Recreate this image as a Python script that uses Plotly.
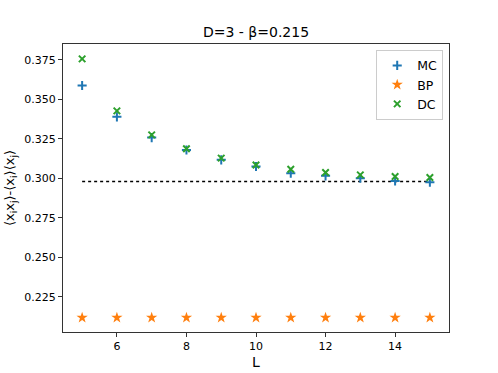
import plotly.graph_objects as go

L = [5, 6, 7, 8, 9, 10, 11, 12, 13, 14, 15]
mc = [0.3587, 0.3389, 0.3258, 0.3179, 0.3117, 0.3075, 0.3033, 0.3016, 0.3001, 0.2984, 0.2976]
bp = [0.2119] * 11
dc = [0.3756, 0.3427, 0.3275, 0.3187, 0.3128, 0.3085, 0.3058, 0.3037, 0.3022, 0.3012, 0.3005]
ref_value = 0.2980

FONT = "DejaVu Sans, Arial, sans-serif"

fig = go.Figure()
fig.add_trace(go.Scatter(x=[L[0], L[-1]], y=[ref_value, ref_value], mode="lines",
                         line=dict(color="black", width=1.5, dash="dot"), showlegend=False,
                         hoverinfo="skip"))
fig.add_trace(go.Scatter(x=L, y=mc, mode="markers", name="MC",
                         marker=dict(symbol="cross-thin-open", size=6.5, color="#1f77b4",
                                     line=dict(width=2, color="#1f77b4"))))
fig.add_trace(go.Scatter(x=L, y=bp, mode="markers", name="BP",
                         marker=dict(symbol="star", size=8.5, color="#ff7f0e",
                                     line=dict(width=0))))
fig.add_trace(go.Scatter(x=L, y=dc, mode="markers", name="DC",
                         marker=dict(symbol="x-thin-open", size=6.5, color="#2ca02c",
                                     line=dict(width=2, color="#2ca02c"))))

axis_common = dict(showgrid=False, zeroline=False, showline=True, linecolor="#333333",
                   linewidth=1, mirror=True, ticks="outside", ticklen=4, tickcolor="#333333",
                   automargin=False,
                   tickfont=dict(family=FONT, size=11, color="black"))

fig.update_layout(
    width=498, height=373,
    margin=dict(l=63, r=49, t=44, b=41),
    paper_bgcolor="white", plot_bgcolor="white",
    title=dict(text="D=3 - β=0.215", x=0.5, xanchor="center", xref="paper",
               y=1 - 32 / 373, yref="container", yanchor="middle",
               font=dict(family=FONT, size=14, color="black")),
    xaxis=dict(range=[4.45, 15.55], tickvals=[6, 8, 10, 12, 14],
               title=dict(text="L", font=dict(family=FONT, size=14, color="black"), standoff=4),
               **axis_common),
    yaxis=dict(range=[0.2028, 0.3850], tickvals=[0.225, 0.25, 0.275, 0.3, 0.325, 0.35, 0.375],
               tickformat=".3f",
               title=dict(text="⟨x<sub>i</sub>x<sub>j</sub>⟩-⟨x<sub>i</sub>⟩⟨x<sub>j</sub>⟩",
                          font=dict(family=FONT, size=13, color="black"), standoff=6),
               **axis_common),
    legend=dict(x=0.985, y=0.98, xanchor="right", yanchor="top",
                bordercolor="#cccccc", borderwidth=1, bgcolor="rgba(255,255,255,0.8)",
                font=dict(family=FONT, size=12.5, color="black"), itemwidth=30,
                tracegroupgap=0),
    showlegend=True,
)

fig.write_html("out.html", config={"displayModeBar": False},
               post_script="document.body.style.margin='0';document.body.style.overflow='hidden';")
